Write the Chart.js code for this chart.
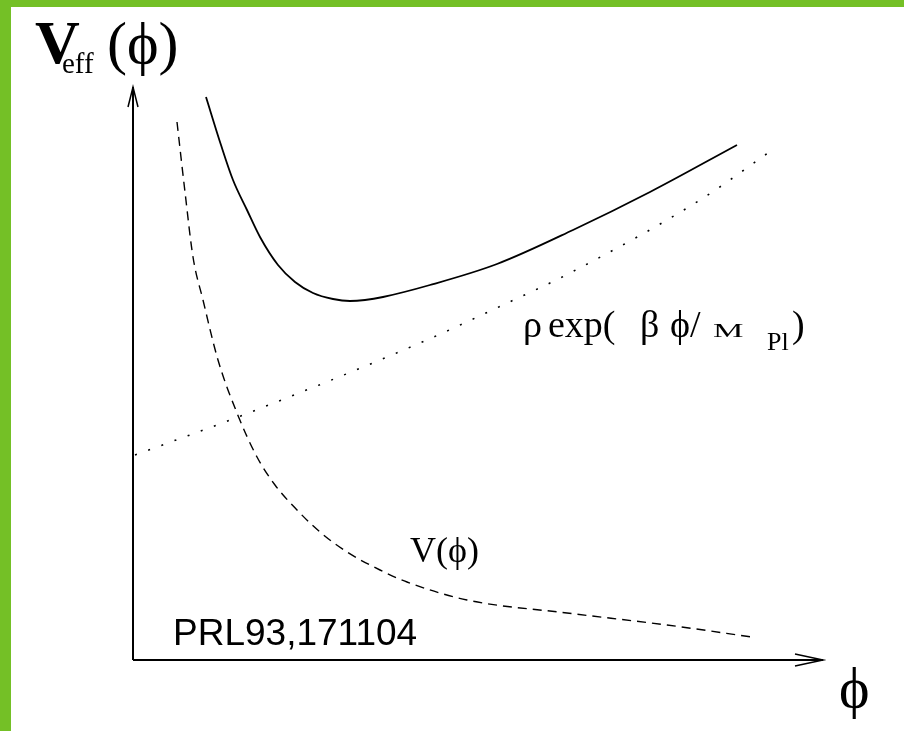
<!DOCTYPE html>
<html>
<head>
<meta charset="utf-8">
<script src="https://cdn.jsdelivr.net/npm/chart.js@4"></script>
<style>
  html, body { margin: 0; padding: 0; background: #fff; }
  #wrap { width: 904px; height: 731px; }
</style>
</head>
<body>
<div id="wrap"><canvas id="chart" width="904" height="731"></canvas></div>
<script>
// Données (unités arbitraires, origine au croisement des axes)
const vEffPhi = [73, 88, 100, 114, 127, 145, 162, 180, 200, 217, 232, 250, 297, 364, 440, 517, 604];
const vEffVal = [563, 515, 480, 450, 423, 395, 378, 367, 361, 359, 360, 363, 375, 396, 430, 468, 515];

const couplingPhi = [2, 105, 287, 370, 437, 567, 642];
const couplingVal = [205, 243, 317, 355, 387, 460, 512];

const potentialPhi = [44, 52, 60, 70, 85, 104, 124, 142, 164, 187, 214, 247, 274, 334, 434, 534, 619];
const potentialVal = [538, 468, 403, 360, 300, 247, 203, 175, 150, 128, 108, 90, 78, 60, 47, 35, 23];

// Axes (flèches)
const axisPhiMax = 690;
const axisVMax = 573;

const toPoints = (xs, ys) => xs.map((x, i) => ({ x: x, y: ys[i] }));

const SERIF = '"Liberation Serif", "DejaVu Serif", serif';
const SANS = '"Liberation Sans", Arial, sans-serif';

// Textes placés en coordonnées de données
const labels = [
    { parts: [{ t: 'V', size: 62, dx: 0, dy: 0, weight: 'bold' }], x: -98, y: 597 },
    { parts: [{ t: 'eff', size: 29, dx: 0, dy: 0 }], x: -71, y: 587 },
    { parts: [{ t: '(ϕ)', size: 60, dx: 0, dy: 0 }], x: -26, y: 597 },
    { parts: [
        { t: 'ρ', size: 38, dx: 0, dy: 0 },
        { t: 'exp(', size: 38, dx: 25, dy: 0 },
        { t: 'β', size: 38, dx: 117, dy: 0 },
        { t: 'ϕ/', size: 38, dx: 147, dy: 0 },
        { t: 'M', size: 18, dx: 190, dy: 0, sx: 1.9 },
        { t: 'Pl', size: 26, dx: 244, dy: 13 },
        { t: ')', size: 38, dx: 269, dy: 0 }
      ], x: 390, y: 323 },
    { parts: [{ t: 'V(ϕ)', size: 36, dx: 0, dy: 0 }], x: 277, y: 98 },
    { parts: [{ t: 'PRL93,171104', size: 37, dx: 0, dy: 0, font: SANS }], x: 40, y: 15 },
    { parts: [{ t: 'ϕ', size: 58, dx: 0, dy: 0 }], x: 706, y: -47 }
];

const decorPlugin = {
    id: 'decor',
    beforeDraw(chart) {
        const ctx = chart.ctx;
        ctx.save();
        ctx.fillStyle = '#ffffff';
        ctx.fillRect(0, 0, chart.width, chart.height);
        ctx.fillStyle = '#74c026';
        ctx.fillRect(0, 0, chart.width, 7);
        ctx.fillRect(0, 0, 11, chart.height);
        ctx.restore();
    },
    afterDraw(chart) {
        const ctx = chart.ctx;
        const sx = chart.scales.x, sy = chart.scales.y;
        ctx.save();
        ctx.fillStyle = '#000';
        ctx.textBaseline = 'alphabetic';
        labels.forEach(l => {
            const px = sx.getPixelForValue(l.x);
            const py = sy.getPixelForValue(l.y);
            l.parts.forEach(p => {
                ctx.font = (p.weight || 'normal') + ' ' + p.size + 'px ' + (p.font || SERIF);
                ctx.save();
                ctx.translate(px + p.dx, py + p.dy);
                if (p.sx) ctx.scale(p.sx, 1);
                ctx.fillText(p.t, 0, 0);
                ctx.restore();
            });
        });
        ctx.restore();
    }
};

const lineStyle = { showLine: true, pointRadius: 0, fill: false, borderColor: '#000' };
const curveStyle = { ...lineStyle, cubicInterpolationMode: 'monotone' };

new Chart(document.getElementById('chart'), {
    type: 'scatter',
    data: {
        datasets: [
            { ...lineStyle, label: 'axe phi', data: toPoints([0, axisPhiMax], [0, 0]), borderWidth: 2 },
            { ...lineStyle, label: 'axe V', data: toPoints([0, 0], [0, axisVMax]), borderWidth: 2 },
            { ...lineStyle, label: 'flèche phi', data: toPoints([axisPhiMax - 28, axisPhiMax, axisPhiMax - 28], [6, 0, -6]), borderWidth: 1.5 },
            { ...lineStyle, label: 'flèche V', data: toPoints([-5, 0, 5], [axisVMax - 20, axisVMax, axisVMax - 20]), borderWidth: 1.5 },
            { ...curveStyle, label: 'Veff', data: toPoints(vEffPhi, vEffVal), borderWidth: 1.8 },
            { ...curveStyle, label: 'rho exp', data: toPoints(couplingPhi, couplingVal), borderWidth: 1.6, borderDash: [2, 12] },
            { ...curveStyle, label: 'V', data: toPoints(potentialPhi, potentialVal), borderWidth: 1.4, borderDash: [9, 6] }
        ]
    },
    options: {
        responsive: false,
        animation: false,
        layout: { padding: { left: 133, right: 81, top: 87, bottom: 71 } },
        scales: {
            x: { type: 'linear', min: 0, max: axisPhiMax, display: false },
            y: { type: 'linear', min: 0, max: axisVMax, display: false }
        },
        plugins: { legend: { display: false }, tooltip: { enabled: false } },
        clip: false
    },
    plugins: [decorPlugin]
});
</script>
</body>
</html>
